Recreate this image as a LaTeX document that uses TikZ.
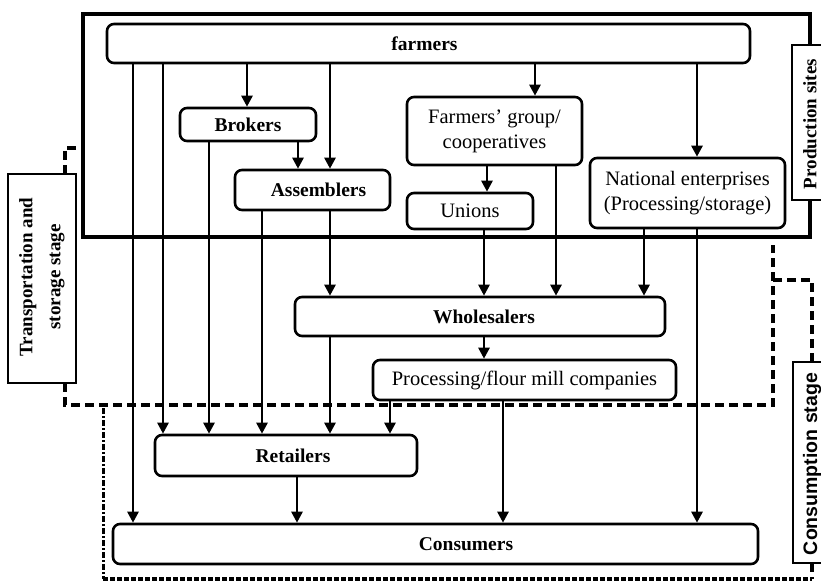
\documentclass[tikz,border=0pt]{standalone}
\usepackage{fontspec}
\setmainfont{Liberation Serif}
\newfontfamily\stagesans{Liberation Sans}
\usetikzlibrary{arrows.meta}

\begin{document}
\begin{tikzpicture}[x=1pt,y=-1pt,
  box/.style={draw,line width=2.6pt,rounded corners=7pt,inner sep=0pt,fill=white,align=center},
  bt/.style={font=\fontsize{19.5}{24}\selectfont\bfseries},
  rt/.style={font=\fontsize{20.5}{25}\selectfont},
  arr/.style={line width=2.6pt,-{Triangle[length=11pt,width=11pt]}},
  stagebox/.style={draw,line width=2.6pt,fill=white,inner sep=0pt},
  stagetext/.style={font=\fontsize{19}{28}\selectfont\bfseries,rotate=90,align=center},
  transdash/.style={line width=4pt,dash pattern=on 9pt off 5pt},
  densedash/.style={line width=4pt,dash pattern=on 5pt off 2pt},
  dashdotline/.style={line width=3pt,dash pattern=on 6pt off 2pt on 2pt off 2pt},
]
\useasboundingbox (0,0) rectangle (821,584);
\fill[white] (0,0) rectangle (821,584);

% stage regions
\draw[line width=4pt] (83,14) rectangle (810,237);
\draw[transdash] (76,148) -- (65,148) -- (65,174);
\draw[transdash] (65,383) -- (65,405) -- (773,405) -- (773,245);
\draw[transdash] (773,280) -- (812,280) -- (812,362);
\draw[transdash] (812,563) -- (812,579);
\draw[densedash] (103,579) -- (812,579);
\draw[dashdotline] (103,408) -- (103,579);

% stage labels
\draw[stagebox] (792,45) rectangle (830,200);
\node[stagetext] (prodlabel) at (810,124) {Production sites};
\draw[stagebox] (793,362) rectangle (830,563);
\node[stagetext,font=\stagesans\fontsize{19.5}{24}\selectfont\bfseries] (conslabel) at (812,464) {Consumption stage};
\draw[stagebox] (8,174) rectangle (76,383);
\node[stagetext] (translabel) at (42,277) {Transportation and\\storage stage};

% actors
\node[box,minimum width=643pt,minimum height=39pt] (farmers) at (428.5,43.5) {};
\node[bt] (farmerstext) at (424.5,43.5) {farmers};
\node[box,bt,minimum width=136pt,minimum height=33pt] (brokers) at (248,124.5) {Brokers};
\node[box,bt,minimum width=155pt,minimum height=40pt] (assemblers) at (312.5,190) {\hspace*{12pt}Assemblers};
\node[box,rt,minimum width=175pt,minimum height=68pt] (group) at (494.5,131) {Farmers' group/\\cooperatives};
\node[box,rt,minimum width=126pt,minimum height=36pt] (unions) at (470,211) {Unions};
\node[box,rt,minimum width=195pt,minimum height=70pt] (national) at (687.5,193) {National enterprises\\(Processing/storage)};
\node[box,minimum width=370pt,minimum height=39pt] (wholesalers) at (480,316.5) {};
\node[bt] (wholesalerstext) at (484,316.5) {Wholesalers};
\node[box,rt,minimum width=303pt,minimum height=40pt] (processing) at (524.5,380) {Processing/flour mill companies};
\node[box,minimum width=262pt,minimum height=41pt] (retailers) at (286,455.5) {};
\node[bt] (retailerstext) at (293,455.5) {Retailers};
\node[box,minimum width=645pt,minimum height=40pt] (consumers) at (435.5,544) {};
\node[bt] (consumerstext) at (466,544) {Consumers};

% connector columns
\foreach \c in {133,163,209,247,262,297,298,330,390,484,487,503,535,556,644,697}
  \coordinate (x\c) at (\c,0);

% flows
\draw[arr] (farmers.south -| x133) -- (consumers.north -| x133);
\draw[arr] (farmers.south -| x163) -- (retailers.north -| x163);
\draw[arr] (farmers.south -| x247) -- (brokers.north -| x247);
\draw[arr] (farmers.south -| x330) -- (assemblers.north -| x330);
\draw[arr] (farmers.south -| x535) -- (group.north -| x535);
\draw[arr] (farmers.south -| x697) -- (national.north -| x697);
\draw[arr] (brokers.south -| x298) -- (assemblers.north -| x298);
\draw[arr] (brokers.south -| x209) -- (retailers.north -| x209);
\draw[arr] (assemblers.south -| x262) -- (retailers.north -| x262);
\draw[arr] (assemblers.south -| x330) -- (wholesalers.north -| x330);
\draw[arr] (group.south -| x487) -- (unions.north -| x487);
\draw[arr] (group.south -| x556) -- (wholesalers.north -| x556);
\draw[arr] (unions.south -| x484) -- (wholesalers.north -| x484);
\draw[arr] (national.south -| x644) -- (wholesalers.north -| x644);
\draw[arr] (national.south -| x697) -- (consumers.north -| x697);
\draw[arr] (wholesalers.south -| x484) -- (processing.north -| x484);
\draw[arr] (wholesalers.south -| x330) -- (retailers.north -| x330);
\draw[arr] (processing.south -| x390) -- (retailers.north -| x390);
\draw[arr] (processing.south -| x503) -- (consumers.north -| x503);
\draw[arr] (retailers.south -| x297) -- (consumers.north -| x297);
\end{tikzpicture}
\end{document}
